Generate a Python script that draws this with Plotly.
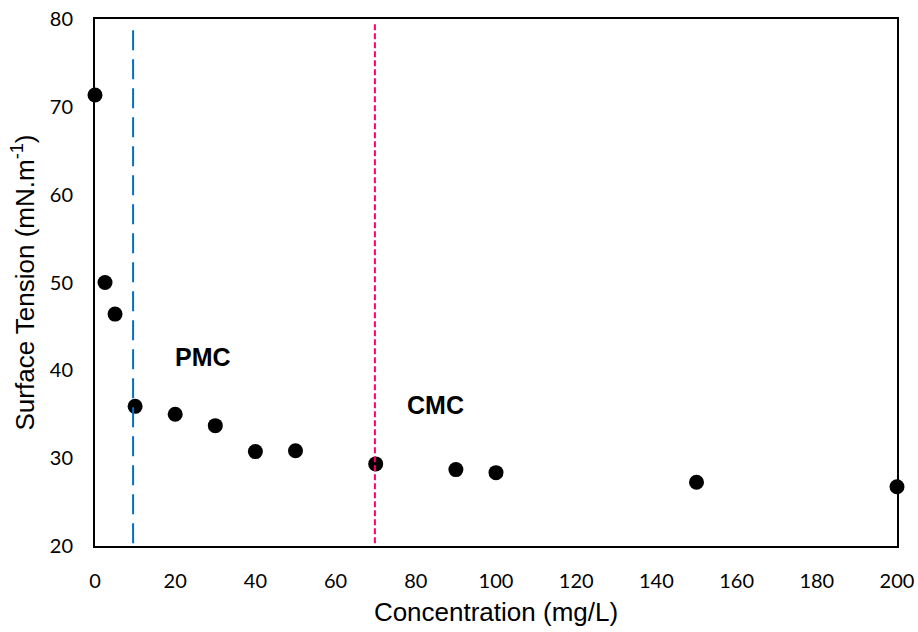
import plotly.graph_objects as go

conc = [0, 2.5, 5, 10, 20, 30, 40, 50, 70, 90, 100, 150, 200]
tension = [71.35, 50.0, 46.4, 35.9, 35.0, 33.7, 30.75, 30.85, 29.35, 28.7, 28.35, 27.25, 26.75]
pmc_x = 9.5
cmc_x = 69.8
x_ticks = [0, 20, 40, 60, 80, 100, 120, 140, 160, 180, 200]
y_ticks = [20, 30, 40, 50, 60, 70, 80]

TICK_FONT = "Lato, 'Open Sans', sans-serif"
TITLE_FONT = "'Liberation Sans', Arial, sans-serif"
tick_font = dict(family=TICK_FONT, size=20, color="black")
title_font = dict(family=TITLE_FONT, size=26, color="black")

fig = go.Figure()
fig.add_trace(go.Scatter(
    x=conc, y=tension, mode="markers",
    marker=dict(color="black", size=15),
    cliponaxis=False, showlegend=False,
))
fig.add_shape(type="line", xref="x", yref="y", x0=pmc_x, x1=pmc_x, y0=20.3, y1=79.6,
              line=dict(color="#0070C0", width=2, dash="20px,9px"))
fig.add_shape(type="line", xref="x", yref="y", x0=cmc_x, x1=cmc_x, y0=20.3, y1=79.6,
              line=dict(color="#FF0066", width=2, dash="6px,3px"))
fig.add_annotation(x=27, y=41.5, xref="x", yref="y", text="<b>PMC</b>", showarrow=False,
                   font=dict(family=TITLE_FONT, size=25, color="black"))
fig.add_annotation(x=84.8, y=36.0, xref="x", yref="y", text="<b>CMC</b>", showarrow=False,
                   font=dict(family=TITLE_FONT, size=25, color="black"))

fig.update_xaxes(range=[0, 200], tickvals=x_ticks, showgrid=False, zeroline=False,
                 showline=True, linecolor="black", linewidth=2, mirror=True,
                 ticks="", tickfont=tick_font, automargin=False,
                 ticklabelstandoff=16, ticklabeloverflow="allow",
                 title=dict(text="Concentration (mg/L)", font=title_font, standoff=12))
fig.update_yaxes(range=[20, 80], tickvals=y_ticks, showgrid=False, zeroline=False,
                 showline=True, linecolor="black", linewidth=2, mirror=True,
                 ticks="", tickfont=tick_font, automargin=False,
                 ticklabelstandoff=16, ticklabeloverflow="allow",
                 title=dict(text="Surface Tension (mN.m<sup>-1</sup>)", font=title_font, standoff=8))
fig.update_layout(width=918, height=632, margin=dict(l=95, r=21, t=19, b=86),
                  plot_bgcolor="white", paper_bgcolor="white")
fig.write_html("out.html", config={"displayModeBar": False},
               post_script="document.body.style.margin='0';document.body.style.overflow='hidden';")
